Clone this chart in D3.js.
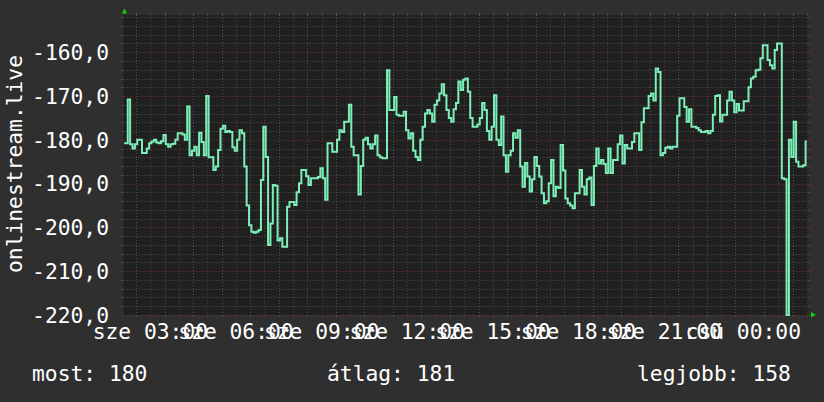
<!DOCTYPE html>
<html><head><meta charset="utf-8">
<script src="https://cdn.jsdelivr.net/npm/d3@7"></script>
<style>html,body{margin:0;padding:0;background:#2f2f2f;} svg{display:block}</style>
</head><body><svg id="c" width="824" height="402"></svg>
<script>
// ---- data ----
const yTitle = "onlinestream.live";
const firstSampleHour = 2 + 5 / 60;   // sze 02:05
const stepMinutes = 5;
const values = [
 -180.8,-180.8,-170.8,-181,-182,-181,-180,-180,-183,-183,
 -182,-180.8,-180.4,-180,-180.6,-180.8,-180.3,-178.9,-181,-181.6,
 -181,-180.9,-180,-178.5,-178.5,-178.8,-180,-172.4,-183.5,-182.5,
 -181.6,-183.5,-178.4,-180.5,-183.5,-170,-184,-184,-186.9,-186.1,
 -182.3,-177.5,-176.8,-178.2,-178,-178.2,-181.7,-182.5,-180,-177.8,
 -178.5,-186.1,-195,-199.5,-201,-201.2,-201,-200.6,-189.2,-177,
 -183.9,-204,-199.1,-190.3,-190.5,-203,-202.5,-204.4,-204.4,-195.3,
 -194.2,-194.2,-194.9,-192,-189.9,-186.9,-186.9,-188.3,-190.3,-188.8,
 -188.8,-188.8,-188.5,-186.5,-188.8,-193.7,-180.8,-180.8,-182.7,-182.7,
 -180,-177.8,-178.2,-175.9,-175.9,-172,-181.6,-183.5,-183.5,-192.5,
 -186,-180,-179.5,-181,-182,-181,-179,-183.5,-184,-184.2,
 -184.2,-164.1,-173.2,-173.2,-170.2,-174.3,-174.5,-174.5,-173.6,-177.8,
 -179.7,-178.5,-182.5,-183.9,-184.6,-180,-177,-174,-173.2,-174,
 -175.9,-172,-171,-169.4,-167.3,-169.8,-173.2,-175,-175.9,-173,
 -171.6,-166.7,-168.6,-166.3,-166,-169,-175,-177,-177,-176.5,
 -175,-171.6,-173.2,-178,-180,-177,-169.8,-180,-181.2,-174.7,
 -183.5,-187.3,-183.5,-182.5,-178.5,-179.5,-177.8,-186.1,-190.7,-185.3,
 -188.4,-191.8,-189,-183.9,-186,-188.4,-192.2,-194.5,-194,-189.9,
 -184.6,-192.9,-190.7,-191,-181.2,-187,-193.4,-194.5,-195,-195.6,
 -192.2,-192.2,-186.9,-190.7,-192.5,-189,-188.6,-194.9,-186,-182,
 -185.4,-184.6,-185.5,-187.6,-182,-187.6,-184.6,-184.6,-181,-179,
 -185.4,-181.2,-182,-182,-180.5,-178.5,-178.5,-182.3,-176,-172.8,
 -172.8,-170,-169.4,-171,-163.7,-164.5,-183.5,-183,-181.8,-181.6,
 -182,-181.6,-181.6,-174.5,-170.5,-170.5,-172.5,-175.9,-173,-177,
 -177,-177.3,-177.8,-178.2,-178.2,-178,-178.5,-178,-174.3,-170,
 -169.8,-175.8,-174.3,-174.3,-171,-169,-171,-173.7,-171.8,-173.3,
 -173.3,-171.2,-171.2,-168,-166,-165.6,-164.1,-164,-161.4,-158.4,
 -158.4,-161.8,-163,-163.7,-159.5,-158,-158,-188.8,-189,-220,
 -180,-183.9,-175.9,-185,-186.1,-186.1,-185.8,-180.4
];
const yTicks = [-220, -210, -200, -190, -180, -170, -160];
const xTickHours = [3, 6, 9, 12, 15, 18, 21, 24];
const xTickLabels = ["sze 03:00","sze 06:00","sze 09:00","sze 12:00","sze 15:00","sze 18:00","sze 21:00","csü 00:00"];
const legendLabels = ["most: 180", "átlag: 181", "legjobb: 158"];

// ---- layout ----
const W = 824, H = 402;
const P = {l: 123.5, r: 808.5, t: 15, b: 315};
const FONT = "DejaVu Sans Mono";
const FS = 21.3;
const colBg = "#2f2f2f", colPlot = "#202020", colMinor = "#505050", colMajor = "#6c3030";
const colLine = "#7cefb8", colArrow = "#10d010", colText = "#ffffff";

const svg = d3.select("#c");
svg.append("defs").append("clipPath").attr("id", "clip").append("rect")
  .attr("x", P.l).attr("y", P.t - 2).attr("width", P.r - P.l).attr("height", P.b - P.t + 4);
svg.append("rect").attr("width", W).attr("height", H).attr("fill", colBg);
svg.append("rect").attr("x", P.l).attr("y", P.t).attr("width", P.r - P.l).attr("height", P.b - P.t).attr("fill", colPlot);

const x = d3.scaleLinear().domain([2.06, 26.06]).range([P.l, P.r]);
const y = d3.scaleLinear().domain([-220, -151.5]).range([P.b, P.t]);

const g = svg.append("g");
// horizontal grid
const hMinor = d3.range(-220, -151, 2).filter(v => v % 10 !== 0);
const hMajor = yTicks;
function hLine(v, col) {
  const yy = Math.round(y(v)) + 0.5;
  g.append("line").attr("x1", P.l).attr("x2", P.r).attr("y1", yy).attr("y2", yy)
    .attr("stroke", col).attr("stroke-width", 1).attr("stroke-dasharray", "1,2");
  g.append("line").attr("x1", P.l - 2).attr("x2", P.l).attr("y1", yy).attr("y2", yy).attr("stroke", col);
  g.append("line").attr("x1", P.r).attr("x2", P.r + 2).attr("y1", yy).attr("y2", yy).attr("stroke", col);
}
hMinor.forEach(v => hLine(v, colMinor));
hMajor.forEach(v => hLine(v, colMajor));
// vertical grid
const vMinor = d3.range(2.5, 26.06, 1);
const vMajor = d3.range(3, 26.06, 1);
function vLine(h, col) {
  const xx = Math.round(x(h)) + 0.5;
  g.append("line").attr("x1", xx).attr("x2", xx).attr("y1", P.t).attr("y2", P.b)
    .attr("stroke", col).attr("stroke-width", 1).attr("stroke-dasharray", "1,2");
  g.append("line").attr("x1", xx).attr("x2", xx).attr("y1", P.t - 2).attr("y2", P.t).attr("stroke", col);
  g.append("line").attr("x1", xx).attr("x2", xx).attr("y1", P.b).attr("y2", P.b + 2).attr("stroke", col);
}
vMinor.forEach(h => vLine(h, colMinor));
vMajor.forEach(h => vLine(h, colMajor));

// data line (rrdtool-like stepped rendering)
const pts = values.map((v, i) => [firstSampleHour + i * stepMinutes / 60, v]);
svg.append("path").datum(pts).attr("clip-path", "url(#clip)")
  .attr("d", d3.line().x(d => x(d[0])).y(d => y(d[1])).curve(d3.curveStep))
  .attr("fill", "none").attr("stroke", colLine).attr("stroke-width", 2).attr("stroke-linejoin", "miter");

// arrows
svg.append("path").attr("d", `M${P.l - 1.5},13.5 L${P.l + 1},8.5 L${P.l + 3.5},13.5 Z`).attr("fill", colArrow);
svg.append("path").attr("d", `M${P.r + 2.5},312 L${P.r + 7.5},314.75 L${P.r + 2.5},317.5 Z`).attr("fill", colArrow);

// text
const txt = svg.append("g").attr("font-family", FONT).attr("font-size", FS).attr("fill", colText);
txt.selectAll(".yl").data(yTicks).join("text")
  .attr("x", 109).attr("y", d => y(d) + 7.8).attr("text-anchor", "end")
  .text(d => d.toFixed(1).replace(".", ","));

txt.append("text").attr("transform", "translate(21.5,164) rotate(-90)")
  .attr("text-anchor", "middle").text(yTitle);

const enc = new TextEncoder();
const xl = txt.selectAll(".xl").data(xTickHours).join("text")
  .attr("y", 338.5).attr("text-anchor", "middle")
  .text((d, i) => xTickLabels[i]);
xl.each(function(d, i) {
  const s = xTickLabels[i];
  const cw = this.getComputedTextLength() / s.length;
  const extra = enc.encode(s).length - s.length;   // byte-count centering quirk
  d3.select(this).attr("x", x(d) - extra * cw / 2);
});

const legendX = [32, 327, 637];
txt.selectAll(".lg").data(legendLabels).join("text")
  .attr("x", (d, i) => legendX[i]).attr("y", 381).text(d => d);
</script>
</body></html>
